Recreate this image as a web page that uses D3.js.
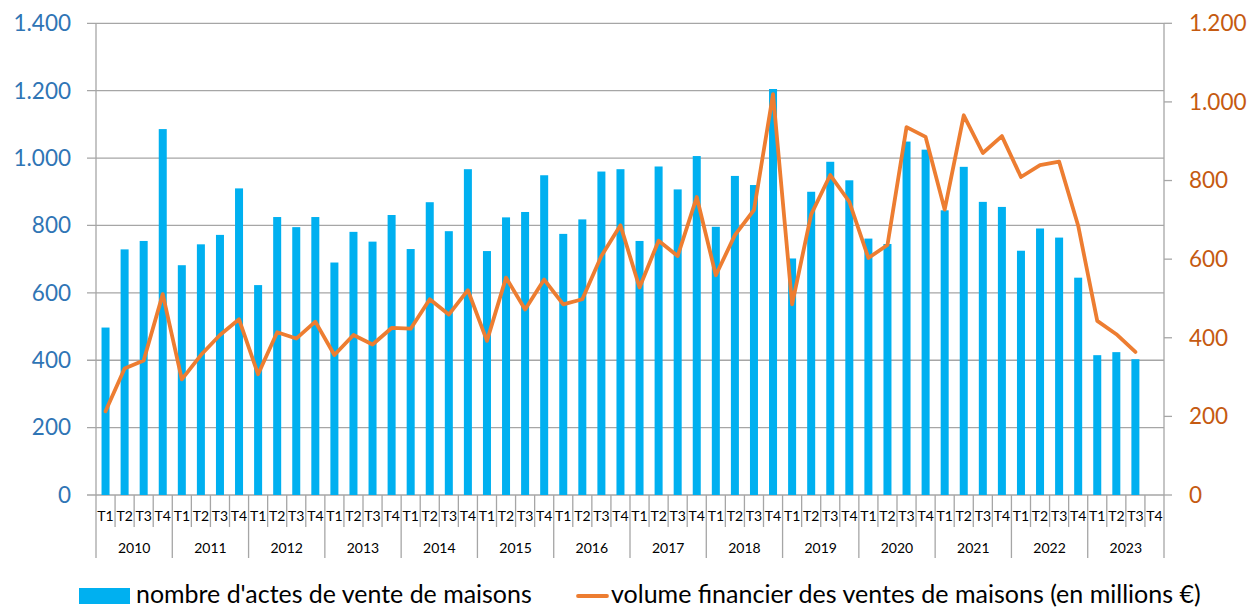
<!DOCTYPE html>
<html>
<head>
<meta charset="utf-8">
<script src="https://cdn.jsdelivr.net/npm/d3@7/dist/d3.min.js"></script>
<style>
  html, body { margin: 0; padding: 0; background: #fff; }
  svg { display: block; font-family: Lato, "Open Sans", sans-serif; }
</style>
</head>
<body>
<svg id="chart" width="1252" height="607"></svg>
<script>
const years = ['2010','2011','2012','2013','2014','2015','2016','2017','2018','2019','2020','2021','2022','2023'];
const quarters = ['T1','T2','T3','T4'];
const actes = [497,729,754,1086, 682,744,772,910, 623,825,795,825, 690,781,752,831,
               730,869,783,967, 724,824,840,949, 775,818,960,967, 754,975,907,1006,
               796,947,920,1205, 702,900,989,934, 761,745,1049,1025, 845,974,870,855,
               725,791,764,645, 415,424,403,null];
const volume = [213,322,342,511, 294,356,407,447, 307,414,398,441, 356,407,383,425,
                423,498,459,521, 392,553,472,548, 485,498,608,686, 528,647,608,758,
                559,661,725,1020, 485,714,814,746, 603,636,936,911, 726,966,870,913,
                809,839,848,685, 443,409,364,null];
const leftTicks = [0,200,400,600,800,1000,1200,1400];
const rightTicks = [0,200,400,600,800,1000,1200];
const legendLabels = ["nombre d'actes de vente de maisons", "volume financier des ventes de maisons (en millions €)"];

const rows = [];
years.forEach((y, yi) => quarters.forEach((q, qi) => {
  const i = yi * 4 + qi;
  rows.push({key: y + '-' + q, year: y, q: q, actes: actes[i], volume: volume[i]});
}));

const svg = d3.select('#chart');
const L = 96, R = 1164, T = 23.3, B = 495;
const gridColor = '#a6a6a6';
const fr = d3.formatLocale({decimal: ',', thousands: '.', grouping: [3], currency: ['', '€']});
const fmt = fr.format(',d');

const x = d3.scaleBand().domain(rows.map(d => d.key)).range([L, R]).padding(0);
const yL = d3.scaleLinear().domain([0, 1400]).range([B, T]);
const yR = d3.scaleLinear().domain([0, 1200]).range([B, T]);

// gridlines
svg.append('g').selectAll('line').data(leftTicks).join('line')
  .attr('x1', L - 9).attr('x2', R)
  .attr('y1', d => yL(d)).attr('y2', d => yL(d))
  .attr('stroke', gridColor).attr('stroke-width', 1.3);

// bars
const bw = x.bandwidth() * 0.42;
svg.append('g').selectAll('rect').data(rows.filter(d => d.actes != null)).join('rect')
  .attr('x', d => x(d.key) + (x.bandwidth() - bw) / 2)
  .attr('width', bw)
  .attr('y', d => yL(d.actes))
  .attr('height', d => B - yL(d.actes))
  .attr('fill', '#00b0f0');

// left axis
const gl = svg.append('g');
gl.append('line').attr('x1', L).attr('x2', L).attr('y1', T).attr('y2', B)
  .attr('stroke', gridColor).attr('stroke-width', 1.3);
gl.selectAll('text').data(leftTicks).join('text')
  .attr('x', 71).attr('y', d => yL(d)).attr('dy', '0.35em')
  .attr('text-anchor', 'end').attr('font-size', 22.5).attr('fill', '#2f75b5')
  .text(d => fmt(d));

// right axis
const gr = svg.append('g');
gr.append('line').attr('x1', R).attr('x2', R).attr('y1', T).attr('y2', B)
  .attr('stroke', gridColor).attr('stroke-width', 1.3);
gr.selectAll('line.tk').data(rightTicks).join('line').attr('class', 'tk')
  .attr('x1', R).attr('x2', R + 8)
  .attr('y1', d => yR(d)).attr('y2', d => yR(d))
  .attr('stroke', gridColor).attr('stroke-width', 1.3);
gr.selectAll('text').data(rightTicks).join('text')
  .attr('x', 1189).attr('y', d => yR(d)).attr('dy', '0.35em')
  .attr('text-anchor', 'start').attr('font-size', 22.5).attr('fill', '#c55a11')
  .text(d => fmt(d));

// x axis category ticks
const gx = svg.append('g');
const bounds = rows.map((d, i) => ({pos: x(d.key), yearStart: i % 4 === 0}));
bounds.push({pos: R, yearStart: true});
gx.selectAll('line').data(bounds).join('line')
  .attr('x1', d => d.pos).attr('x2', d => d.pos)
  .attr('y1', B).attr('y2', d => d.yearStart ? 558 : 527)
  .attr('stroke', gridColor).attr('stroke-width', 1.3);
gx.selectAll('text.q').data(rows).join('text').attr('class', 'q')
  .attr('x', d => x(d.key) + x.bandwidth() / 2).attr('y', 520.5)
  .attr('text-anchor', 'middle').attr('font-size', 14).attr('fill', '#000')
  .text(d => d.q);
gx.selectAll('text.y').data(years).join('text').attr('class', 'y')
  .attr('x', y => (x(y + '-T1') + x(y + '-T4') + x.bandwidth()) / 2).attr('y', 553)
  .attr('text-anchor', 'middle').attr('font-size', 14).attr('fill', '#000')
  .text(y => y);

// line
const line = d3.line()
  .defined(d => d.volume != null)
  .x(d => x(d.key) + x.bandwidth() / 2)
  .y(d => yR(d.volume));
svg.append('path').datum(rows).attr('d', line)
  .attr('fill', 'none').attr('stroke', '#ed7d31').attr('stroke-width', 3.8)
  .attr('stroke-linejoin', 'round').attr('stroke-linecap', 'round');

// legend
const lg = svg.append('g');
lg.append('rect').attr('x', 79).attr('y', 588).attr('width', 51).attr('height', 16).attr('fill', '#00b0f0');
function fitText(sel, target) {
  let fs = 22;
  sel.attr('font-size', fs);
  const w = sel.node().getComputedTextLength();
  sel.attr('font-size', fs * target / w);
}
const t1 = lg.append('text').attr('x', 136).attr('y', 603).attr('fill', '#000').text(legendLabels[0]);
fitText(t1, 396);
lg.append('line').attr('x1', 578).attr('x2', 607).attr('y1', 596).attr('y2', 596)
  .attr('stroke', '#ed7d31').attr('stroke-width', 3.8).attr('stroke-linecap', 'round');
const t2 = lg.append('text').attr('x', 611).attr('y', 603).attr('fill', '#000').text(legendLabels[1]);
fitText(t2, 590);
</script>
</body>
</html>
